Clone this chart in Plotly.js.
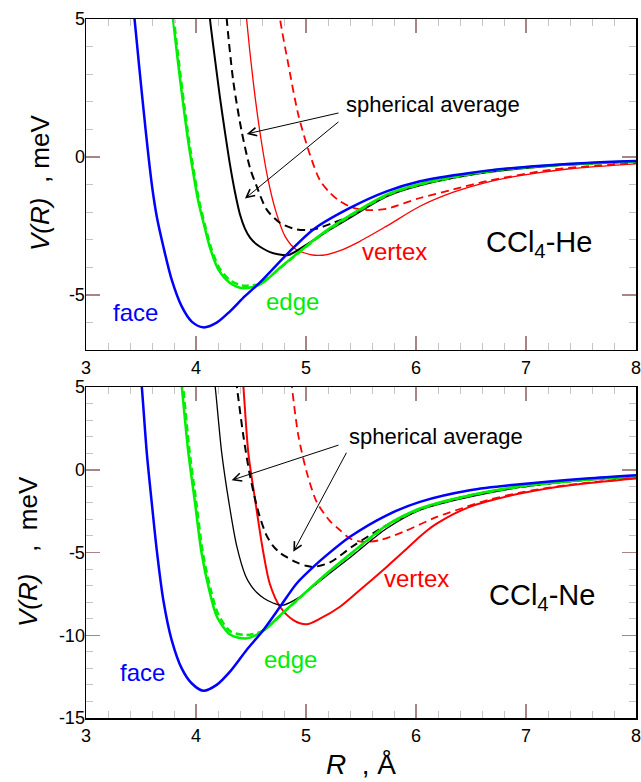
<!DOCTYPE html>
<html>
<head>
<meta charset="utf-8">
<script src="https://cdn.plot.ly/plotly-3.0.1.min.js"></script>
<style>html,body{margin:0;padding:0;background:#fff;}#plot{width:641px;height:782px;}</style>
</head>
<body>
<div id="plot"></div>
<script>
// ---------- CCl4-He (top panel) ----------
const heFaceR = [3.42, 3.441, 3.482, 3.523, 3.564, 3.602, 3.645, 3.703, 3.779, 3.87, 3.961, 4.066, 4.188, 4.309, 4.445, 4.582, 4.839, 5.067, 5.4, 5.733, 6.036, 6.49, 6.945, 7.55, 8.0];
const heFaceV = [5.8, 5.01, 3.34, 1.71, 0.16, -1.11, -2.20, -3.25, -4.45, -5.42, -5.97, -6.18, -6.01, -5.60, -5.05, -4.55, -3.48, -2.63, -1.85, -1.25, -0.88, -0.58, -0.38, -0.22, -0.15];

const heEdgeR = [3.78, 3.791, 3.836, 3.882, 3.927, 3.973, 4.018, 4.073, 4.127, 4.203, 4.309, 4.43, 4.58, 4.764, 4.945, 5.157, 5.4, 5.733, 6.036, 6.64, 7.24, 8.0];
const heEdgeV = [5.5, 5.01, 3.45, 1.97, 0.63, -0.53, -1.55, -2.46, -3.29, -4.08, -4.57, -4.76, -4.63, -4.02, -3.42, -2.75, -2.12, -1.37, -0.98, -0.52, -0.30, -0.16];

const heEdge2R = [3.79, 3.799, 3.844, 3.890, 3.935, 3.981, 4.026, 4.081, 4.135, 4.211, 4.312, 4.42, 4.58, 4.764, 4.945, 5.157, 5.4, 5.733, 6.036, 6.64, 7.24, 8.0];
const heEdge2V = [5.5, 5.01, 3.45, 1.97, 0.63, -0.53, -1.55, -2.46, -3.27, -4.02, -4.48, -4.66, -4.60, -4.03, -3.44, -2.78, -2.15, -1.40, -1.0, -0.54, -0.31, -0.17];

const heAvgR = [4.12, 4.127, 4.173, 4.218, 4.264, 4.309, 4.355, 4.40, 4.445, 4.491, 4.55, 4.612, 4.673, 4.734, 4.839, 5.006, 5.218, 5.4, 5.733, 6.036, 6.64, 7.24, 8.0];
const heAvgV = [5.5, 5.01, 3.53, 2.15, 0.88, -0.28, -1.29, -2.09, -2.60, -2.93, -3.17, -3.33, -3.45, -3.52, -3.56, -3.18, -2.63, -2.20, -1.43, -1.03, -0.56, -0.32, -0.17];

const heAvg2R = [4.27, 4.279, 4.339, 4.415, 4.491, 4.552, 4.643, 4.764, 4.915, 5.066, 5.248, 5.4, 5.733, 6.036, 6.64, 7.24, 8.0];
const heAvg2V = [5.5, 5.01, 2.74, 0.93, -0.40, -1.07, -1.91, -2.39, -2.63, -2.63, -2.39, -2.15, -1.40, -1.0, -0.54, -0.31, -0.17];

const heVertR = [4.45, 4.46, 4.52, 4.58, 4.658, 4.73, 4.81, 4.91, 5.04, 5.11, 5.19, 5.309, 5.49, 5.733, 6.036, 6.34, 6.643, 6.945, 7.4, 8.0];
const heVertV = [5.5, 5.0, 2.74, 0.93, -0.88, -2.03, -2.88, -3.36, -3.54, -3.57, -3.54, -3.40, -3.06, -2.51, -1.79, -1.28, -0.92, -0.68, -0.43, -0.25];

const heVert2R = [4.755, 4.764, 4.84, 4.93, 5.036, 5.127, 5.218, 5.309, 5.43, 5.58, 5.733, 6.036, 6.34, 6.643, 7.24, 8.0];
const heVert2V = [5.4, 5.0, 3.34, 1.53, 0.08, -0.85, -1.30, -1.61, -1.85, -1.93, -1.88, -1.49, -1.18, -0.88, -0.46, -0.22];

// ---------- CCl4-Ne (bottom panel) ----------
const neFaceR = [3.50, 3.506, 3.552, 3.597, 3.645, 3.703, 3.779, 3.87, 3.96, 4.066, 4.188, 4.309, 4.46, 4.60, 4.764, 4.915, 5.067, 5.188, 5.4, 5.733, 6.036, 6.49, 6.945, 7.55, 8.0];
const neFaceV = [5.4, 5.1, 1.07, -1.94, -4.95, -7.88, -10.29, -12.0, -12.9, -13.35, -13.0, -12.2, -10.89, -9.79, -8.28, -6.87, -5.87, -5.16, -4.05, -2.75, -1.94, -1.24, -0.88, -0.53, -0.33];

const neEdgeR = [3.865, 3.87, 3.93, 3.99, 4.05, 4.12, 4.19, 4.309, 4.45, 4.6, 4.8, 4.985, 5.188, 5.42, 5.733, 6.036, 6.49, 6.945, 7.55, 8.0];
const neEdgeV = [5.4, 5.1, 1.07, -1.94, -5.0, -7.27, -8.88, -9.95, -10.2, -9.79, -8.58, -7.47, -6.27, -5.0, -3.35, -2.34, -1.54, -1.0, -0.59, -0.37];

const neEdge2R = [3.877, 3.882, 3.942, 4.002, 4.062, 4.132, 4.2, 4.309, 4.45, 4.6, 4.8, 4.985, 5.188, 5.42, 5.733, 6.036, 6.49, 6.945, 7.55, 8.0];
const neEdge2V = [5.4, 5.1, 1.07, -1.94, -5.0, -7.2, -8.7, -9.75, -9.98, -9.75, -8.6, -7.5, -6.3, -5.03, -3.4, -2.38, -1.56, -1.03, -0.6, -0.38];

const neAvgR = [4.165, 4.173, 4.233, 4.30, 4.37, 4.45, 4.50, 4.55, 4.62, 4.70, 4.78, 4.945, 5.127, 5.41, 5.733, 6.036, 6.49, 6.945, 7.55, 8.0];
const neAvgV = [5.4, 5.1, 1.07, -2.0, -4.6, -6.4, -7.0, -7.4, -7.78, -8.05, -8.2, -7.68, -6.72, -5.25, -3.55, -2.44, -1.64, -1.07, -0.63, -0.43];

const neAvg2R = [4.365, 4.37, 4.43, 4.49, 4.567, 4.64, 4.70, 4.76, 4.83, 4.915, 5.0, 5.067, 5.218, 5.43, 5.733, 6.036, 6.49, 6.945, 7.55, 8.0];
const neAvg2V = [5.4, 5.1, 2.08, -0.33, -2.55, -3.95, -4.6, -5.0, -5.3, -5.6, -5.8, -5.87, -5.6, -4.6, -3.35, -2.38, -1.54, -1.04, -0.59, -0.39];

const neVertR = [4.425, 4.43, 4.475, 4.54, 4.612, 4.67, 4.764, 4.885, 5.006, 5.127, 5.309, 5.49, 5.733, 5.885, 6.036, 6.11, 6.188, 6.34, 6.49, 6.643, 6.945, 7.4, 8.0];
const neVertV = [5.4, 5.1, 1.07, -1.94, -5.0, -6.87, -8.28, -9.08, -9.33, -9.0, -8.28, -7.27, -5.87, -4.96, -4.03, -3.62, -3.26, -2.68, -2.24, -1.92, -1.44, -0.94, -0.53];

const neVert2R = [4.865, 4.87, 4.93, 5.006, 5.097, 5.218, 5.309, 5.40, 5.52, 5.673, 5.885, 6.19, 6.43, 6.643, 6.945, 7.4, 8.0];
const neVert2V = [5.4, 5.1, 2.08, -0.13, -1.94, -3.1, -3.65, -4.15, -4.36, -4.25, -3.75, -2.85, -2.3, -1.85, -1.38, -0.9, -0.5];

// ---------- axis ticks ----------
const xTicks = [3, 4, 5, 6, 7, 8];
const yTicksHe = [-5, 0, 5];
const yTicksNe = [-15, -10, -5, 0, 5];

const BLUE = '#0000ff', GREEN = '#00ee00', RED = '#ff0000', BLACK = '#000000';
const FONT = 'Liberation Sans, Arial, Helvetica, sans-serif';

function tr(x, y, color, width, dash, xa, ya) {
  return {x: x, y: y, type: 'scatter', mode: 'lines', xaxis: xa, yaxis: ya,
    line: {color: color, width: width, dash: dash, shape: 'spline', smoothing: 0.8},
    hoverinfo: 'skip', showlegend: false};
}

const data = [
  tr(heVert2R, heVert2V, RED, 1.8, '8px,5px', 'x', 'y'),
  tr(heVertR, heVertV, RED, 1.3, 'solid', 'x', 'y'),
  tr(heAvg2R, heAvg2V, BLACK, 2, '8px,5px', 'x', 'y'),
  tr(heAvgR, heAvgV, BLACK, 2, 'solid', 'x', 'y'),
  tr(heEdgeR, heEdgeV, GREEN, 2.5, 'solid', 'x', 'y'),
  tr(heEdge2R, heEdge2V, GREEN, 2.5, '7px,4px', 'x', 'y'),
  tr(heFaceR, heFaceV, BLUE, 2.5, 'solid', 'x', 'y'),

  tr(neVert2R, neVert2V, RED, 1.8, '8px,5px', 'x2', 'y2'),
  tr(neVertR, neVertV, RED, 2, 'solid', 'x2', 'y2'),
  tr(neAvg2R, neAvg2V, BLACK, 2, '8px,5px', 'x2', 'y2'),
  tr(neAvgR, neAvgV, BLACK, 1.3, 'solid', 'x2', 'y2'),
  tr(neEdgeR, neEdgeV, GREEN, 2.5, 'solid', 'x2', 'y2'),
  tr(neEdge2R, neEdge2V, GREEN, 2.5, '7px,4px', 'x2', 'y2'),
  tr(neFaceR, neFaceV, BLUE, 2.5, 'solid', 'x2', 'y2')
];

function axisBase(extra) {
  return Object.assign({
    showline: true, linecolor: 'black', linewidth: 1.5, mirror: 'ticks',
    ticks: 'inside', ticklen: 14, tickwidth: 1.5, tickcolor: '#a88484',
    showgrid: false, zeroline: false, fixedrange: true,
    tickfont: {family: FONT, size: 18, color: 'black'},
    ticklabeloverflow: 'allow'
  }, extra);
}
function minorX() { return {tickmode: 'linear', tick0: 3, dtick: 0.2, ticklen: 7, tickwidth: 1, tickcolor: '#c4c4c4', ticks: 'inside', showgrid: false}; }
function minorY() { return {tickmode: 'linear', tick0: 0, dtick: 1, ticklen: 7, tickwidth: 1, tickcolor: '#c4c4c4', ticks: 'inside', showgrid: false}; }

const layout = {
  width: 641, height: 782,
  margin: {l: 86, r: 5, t: 19, b: 64},
  paper_bgcolor: 'white', plot_bgcolor: 'white',
  showlegend: false,
  xaxis: axisBase({domain: [0, 1], anchor: 'y', range: [3, 8], tickmode: 'array', tickvals: xTicks, ticktext: xTicks.map(String),
    minor: minorX(), ticklabelstandoff: 1}),
  yaxis: axisBase({domain: [0.5265, 1], anchor: 'x', range: [-7, 5], tickmode: 'array', tickvals: yTicksHe, ticktext: yTicksHe.map(String),
    minor: minorY(), ticklabelstandoff: -4}),
  xaxis2: axisBase({domain: [0, 1], anchor: 'y2', range: [3, 8], tickmode: 'array', tickvals: xTicks, ticktext: xTicks.map(String),
    minor: minorX(), ticklabelstandoff: 1}),
  yaxis2: axisBase({domain: [0, 0.4735], anchor: 'x2', range: [-15, 5], tickmode: 'array', tickvals: yTicksNe, ticktext: yTicksNe.map(String),
    minor: minorY(), ticklabelstandoff: -4}),
  annotations: []
};

function label(text, x, y, color, size, xr, yr) {
  return {text: text, x: x, y: y, xref: xr, yref: yr, showarrow: false,
    font: {family: FONT, size: size, color: color}, xanchor: 'center', yanchor: 'middle'};
}
function arrow(x, y, ax, ay, xr, yr) {
  return {text: '', x: x, y: y, ax: ax, ay: ay, xref: xr, yref: yr, axref: xr, ayref: yr,
    showarrow: true, arrowhead: 5, arrowsize: 1.6, arrowwidth: 1, arrowcolor: 'black', standoff: 0, startstandoff: 0};
}

const NB = '\u00A0';
layout.annotations.push(
  // top panel labels
  label('face', 3.45, -5.64, BLUE, 24, 'x', 'y'),
  label('edge', 4.873, -5.24, GREEN, 24, 'x', 'y'),
  label('vertex', 5.809, -3.43, RED, 24, 'x', 'y'),
  label('CCl<sub>4</sub>-He', 7.118, -3.14, BLACK, 29, 'x', 'y'),
  label('spherical average', 6.155, 1.89, BLACK, 22, 'x', 'y'),
  arrow(4.461, 0.833, 5.309, 1.605, 'x', 'y'),
  arrow(4.445, -1.51, 5.309, 1.315, 'x', 'y'),
  // bottom panel labels
  label('face', 3.518, -12.28, BLUE, 24, 'x2', 'y2'),
  label('edge', 4.855, -11.44, GREEN, 24, 'x2', 'y2'),
  label('vertex', 6.009, -6.55, RED, 24, 'x2', 'y2'),
  label('CCl<sub>4</sub>-Ne', 7.145, -7.69, BLACK, 29, 'x2', 'y2'),
  label('spherical average', 6.18, 2.02, BLACK, 22, 'x2', 'y2'),
  arrow(4.324, -0.63, 5.309, 1.52, 'x2', 'y2'),
  arrow(4.885, -4.96, 5.375, 1.12, 'x2', 'y2'),
  // axis titles
  {text: '<i>V(R)</i>' + NB + NB + ',' + NB + 'meV', x: -0.0836, y: 0.7654, xref: 'paper', yref: 'paper', showarrow: false,
    textangle: -90, font: {family: FONT, size: 26, color: 'black'}, xanchor: 'center', yanchor: 'middle'},
  {text: '<i>V(R)</i>' + NB + NB + NB + ',' + NB + NB + 'meV', x: -0.1055, y: 0.2389, xref: 'paper', yref: 'paper', showarrow: false,
    textangle: -90, font: {family: FONT, size: 26, color: 'black'}, xanchor: 'center', yanchor: 'middle'},
  {text: '<i>R</i>' + NB + NB + ',' + NB + 'Å', x: 0.5009, y: -0.0672, xref: 'paper', yref: 'paper', showarrow: false,
    font: {family: FONT, size: 28, color: 'black'}, xanchor: 'center', yanchor: 'middle'}
);

Plotly.newPlot('plot', data, layout, {staticPlot: true, displayModeBar: false});
</script>
</body>
</html>
